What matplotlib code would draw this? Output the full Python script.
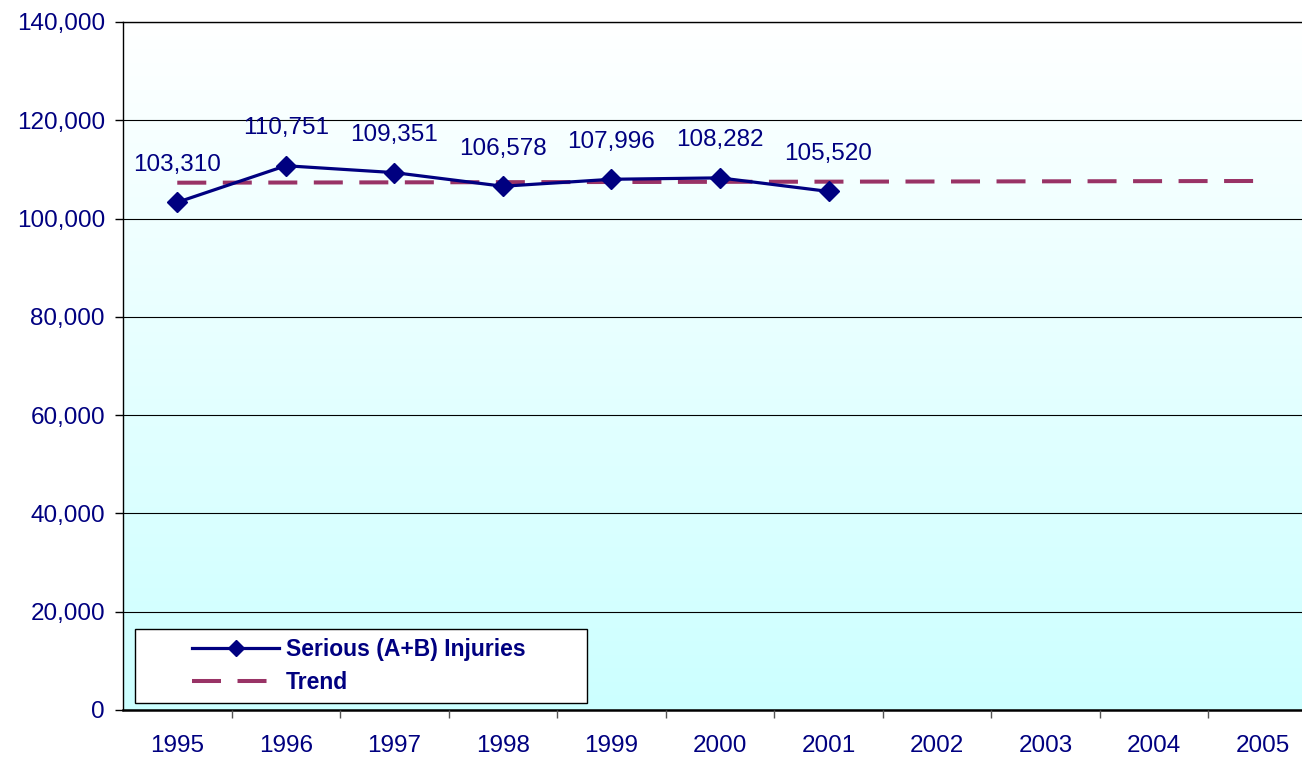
import numpy as np
import matplotlib
matplotlib.use("Agg")
import matplotlib.pyplot as plt
from matplotlib.colors import LinearSegmentedColormap
from matplotlib.lines import Line2D
from matplotlib.patches import Rectangle
from matplotlib.ticker import FuncFormatter, MultipleLocator

plt.rcParams['font.family'] = ['Liberation Sans', 'DejaVu Sans']

years = [1995, 1996, 1997, 1998, 1999, 2000, 2001, 2002, 2003, 2004, 2005]
injury_years = [1995, 1996, 1997, 1998, 1999, 2000, 2001]
injuries = [103310, 110751, 109351, 106578, 107996, 108282, 105520]
trend_years = [1995, 2005]
trend_values = [107300, 107650]

navy = '#000080'
plum = '#993366'

fig = plt.figure(figsize=(13.02, 7.61), dpi=100)
W, H = 1302, 761
left, right, top, bottom = 123, 1317, 22, 710
ax = fig.add_axes([left / W, (H - bottom) / H, (right - left) / W, (bottom - top) / H])

ax.set_xlim(1994.5, 2005.5)
ax.set_ylim(0, 140000)

# gradient background, white at top to pale cyan at bottom
cmap = LinearSegmentedColormap.from_list('bg', ['#CCFFFF', '#FFFFFF'])
grad = np.linspace(0, 1, 256).reshape(-1, 1)
ax.imshow(grad, cmap=cmap, origin='lower', aspect='auto',
          extent=[1994.5, 2005.5, 0, 140000], zorder=0)

ax.yaxis.set_major_locator(MultipleLocator(20000))
ax.grid(axis='y', color='black', linewidth=0.8, zorder=1)
ax.set_axisbelow(False)

# trend
tl, = ax.plot(trend_years, trend_values, color=plum, linewidth=2.9, zorder=2,
              solid_capstyle='butt', dash_capstyle='butt')
tl.set_dashes([7.2, 4.1])

# series
ax.plot(injury_years, injuries, color=navy, linewidth=2.3, marker='D',
        markersize=10.5, zorder=3)

for x, v in zip(injury_years, injuries):
    ax.annotate(f"{v:,}", (x, v), xytext=(0, 27), textcoords='offset points',
                ha='center', va='center', fontsize=17.5, color=navy, zorder=4)

# axes styling
ax.set_xticks(years)
ax.set_xticklabels([str(y) for y in years])
ax.set_xticks([y + 0.5 for y in years], minor=True)
ax.tick_params(axis='x', which='major', length=0, pad=18, labelsize=17.5, labelcolor=navy)
ax.tick_params(axis='x', which='minor', length=6, width=1, color='#555555', direction='out')
ax.yaxis.set_major_formatter(FuncFormatter(lambda v, p: f"{int(v):,}"))
ax.tick_params(axis='y', length=6, width=1, color='black', pad=7, labelsize=17.5, labelcolor=navy)

ax.spines['right'].set_visible(False)
ax.spines['top'].set_linewidth(1)
ax.spines['left'].set_linewidth(1)
ax.spines['bottom'].set_linewidth(1.8)

# legend box
bx0 = (135 - left) / (right - left)
by0 = (bottom - 703) / (bottom - top)
bw = (587 - 135) / (right - left)
bh = (703 - 629) / (bottom - top)
ax.add_patch(Rectangle((bx0, by0), bw, bh, transform=ax.transAxes,
                       facecolor='white', edgecolor='black', linewidth=1, zorder=5))

h1 = Line2D([], [], color=navy, linewidth=2.3, marker='D', markersize=8)
h2 = Line2D([], [], color=plum, linewidth=2.9, dashes=[7.2, 4.1])
leg = ax.legend([h1, h2], ['Serious (A+B) Injuries', 'Trend'],
                loc='center left',
                bbox_to_anchor=((192 - left) / (right - left), by0 + bh / 2),
                frameon=False, handlelength=3.8, handletextpad=0.3,
                labelspacing=0.45, borderpad=0, borderaxespad=0,
                prop={'size': 16.5, 'weight': 'bold'})
for t in leg.get_texts():
    t.set_color(navy)
leg.set_zorder(6)

fig.savefig('out.png', dpi=100)
